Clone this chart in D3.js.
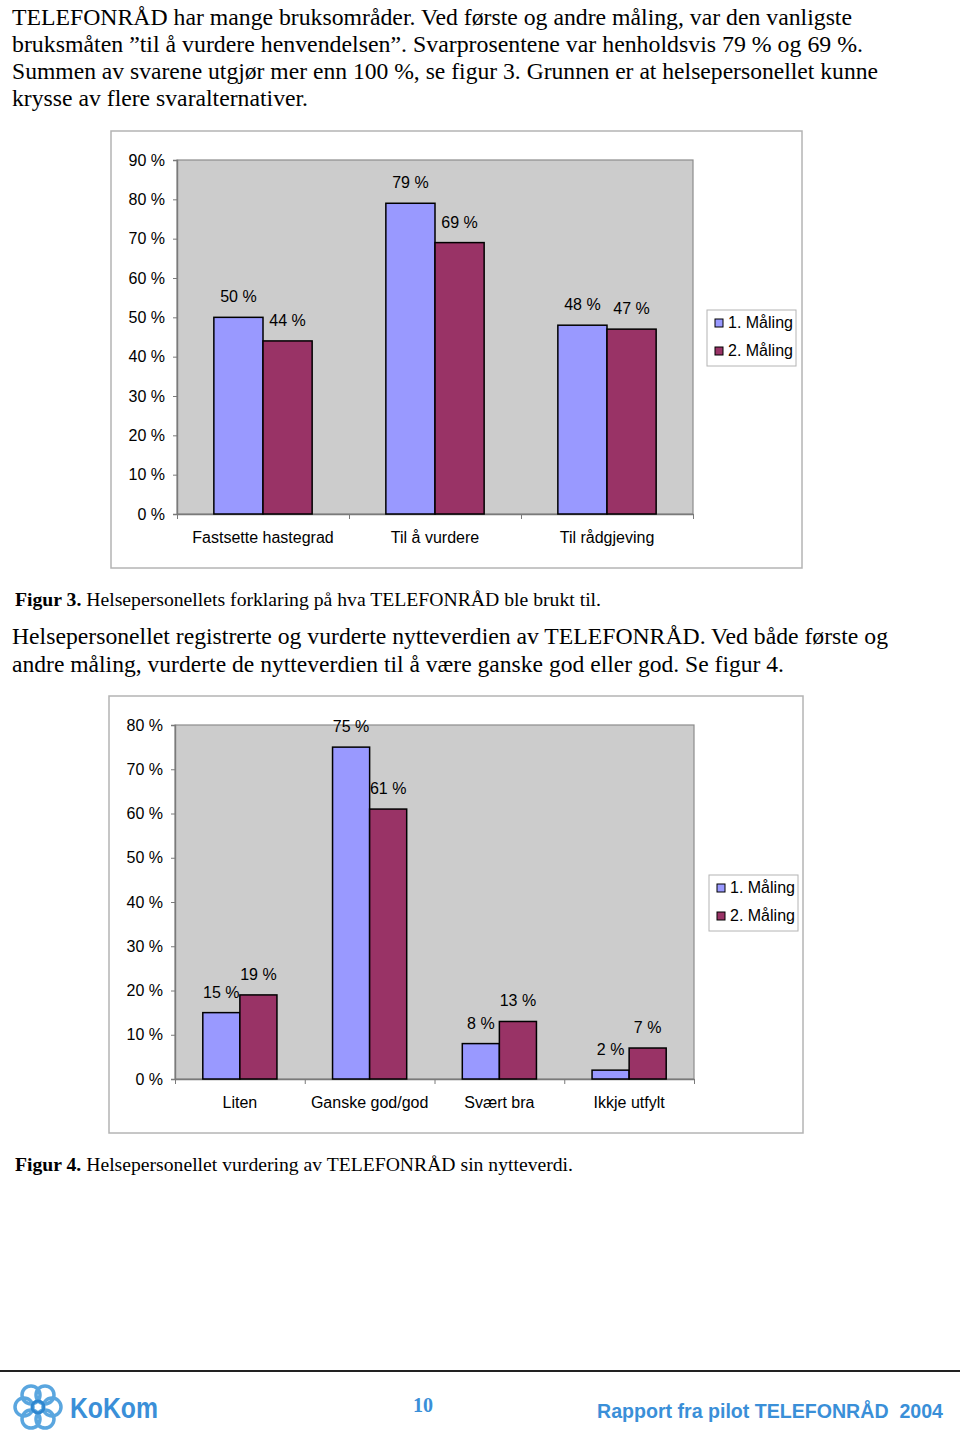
<!DOCTYPE html>
<html><head><meta charset="utf-8">
<script src="https://cdn.jsdelivr.net/npm/d3@7"></script>
<style>body{margin:0;background:#fff}svg{display:block}</style>
</head><body>
<script>
// ---------- DATA ----------
const seriesNames = ["1. Måling", "2. Måling"];
const cats3 = ["Fastsette hastegrad", "Til å vurdere", "Til rådgjeving"];
const fig3Maling1 = [50, 79, 48];
const fig3Maling2 = [44, 69, 47];
const fig3Ticks = [0, 10, 20, 30, 40, 50, 60, 70, 80, 90];

const cats4 = ["Liten", "Ganske god/god", "Svært bra", "Ikkje utfylt"];
const fig4Maling1 = [15, 75, 8, 2];
const fig4Maling2 = [19, 61, 13, 7];
const fig4Ticks = [0, 10, 20, 30, 40, 50, 60, 70, 80];

const para1 = [
  "TELEFONRÅD har mange bruksområder. Ved første og andre måling, var den vanligste",
  "bruksmåten \u201Dtil å vurdere henvendelsen\u201D. Svarprosentene var henholdsvis 79 % og 69 %.",
  "Summen av svarene utgjør mer enn 100 %, se figur 3. Grunnen er at helsepersonellet kunne",
  "krysse av flere svaralternativer."
];
const para2 = [
  "Helsepersonellet registrerte og vurderte nytteverdien av TELEFONRÅD. Ved både første og",
  "andre måling, vurderte de nytteverdien til å være ganske god eller god. Se figur 4."
];

const W = 960, H = 1444;
const svg = d3.select("body").append("svg").attr("width", W).attr("height", H);
svg.append("rect").attr("width", W).attr("height", H).attr("fill", "#fff");

const serif = "'Liberation Serif','Times New Roman',serif";
const sans = "'Liberation Sans',Arial,sans-serif";
const FS = 16;

function paragraph(lines, x, y0, lh, widths) {
  lines.forEach((t, i) => {
    const el = svg.append("text").attr("x", x).attr("y", y0 + i * lh)
      .attr("font-family", serif).attr("font-size", 23).attr("fill", "#000").text(t);
    if (widths[i]) el.attr("textLength", widths[i]).attr("lengthAdjust", "spacingAndGlyphs");
  });
}
paragraph(para1, 12, 25, 27, [840, 851, 866, 296]);
paragraph(para2, 12, 644, 28, [876, 772]);

function caption(num, rest, y, len) {
  const t = svg.append("text").attr("x", 15).attr("y", y).attr("font-family", serif)
    .attr("font-size", 18.5).attr("fill", "#000")
    .attr("textLength", len).attr("lengthAdjust", "spacingAndGlyphs");
  t.append("tspan").attr("font-weight", "bold").text(num);
  t.append("tspan").text(rest);
}
caption("Figur 3.", " Helsepersonellets forklaring på hva TELEFONRÅD ble brukt til.", 606, 586);
caption("Figur 4.", " Helsepersonellet vurdering av TELEFONRÅD sin nytteverdi.", 1171, 558);

const colors = ["#9999ff", "#993366"];

function chart(o) {
  const g = svg.append("g");
  // outer frame
  g.append("rect").attr("x", o.box[0]).attr("y", o.box[1]).attr("width", o.box[2]).attr("height", o.box[3])
    .attr("fill", "#fff").attr("stroke", "#b4b4b4").attr("stroke-width", 1.5);
  const y = d3.scaleLinear().domain([0, o.max]).range([o.bottom, o.top]);
  const x0 = d3.scaleBand().domain(o.cats).range([o.left, o.right])
    .paddingInner(3 / 7).paddingOuter(1.5 / 7);
  const x1 = d3.scaleBand().domain(seriesNames).range([0, x0.bandwidth()]);
  // plot area
  g.append("rect").attr("x", o.left).attr("y", o.top).attr("width", o.right - o.left)
    .attr("height", o.bottom - o.top).attr("fill", "#cccccc").attr("stroke", "#8c8c8c").attr("stroke-width", 1.2);
  // y axis
  const ya = g.append("g").attr("transform", `translate(${o.left},0)`)
    .call(d3.axisLeft(y).tickValues(o.ticks).tickFormat(d => d + " %").tickSize(4).tickPadding(8));
  ya.select(".domain").attr("stroke", "#7a7a7a").attr("stroke-width", 1.4);
  ya.selectAll(".tick line").attr("stroke", "#7a7a7a");
  ya.selectAll("text").attr("font-family", sans).attr("font-size", FS).attr("fill", "#000");
  // x axis (ticks at category boundaries)
  const xb = d3.scaleLinear().domain([0, o.cats.length]).range([o.left, o.right]);
  const xa = g.append("g").attr("transform", `translate(0,${o.bottom})`)
    .call(d3.axisBottom(xb).ticks(o.cats.length).tickFormat("").tickSize(5).tickSizeOuter(0));
  xa.select(".domain").attr("stroke", "#7a7a7a").attr("stroke-width", 1.4);
  xa.selectAll(".tick line").attr("stroke", "#7a7a7a");
  g.selectAll(".cat").data(o.cats).enter().append("text")
    .attr("x", d => x0(d) + x0.bandwidth() / 2).attr("y", o.bottom + 29)
    .attr("text-anchor", "middle").attr("font-family", sans).attr("font-size", FS).text(d => d);
  // bars
  const data = [];
  o.cats.forEach((c, i) => {
    data.push({ c, s: seriesNames[0], v: o.s1[i], k: 0 });
    data.push({ c, s: seriesNames[1], v: o.s2[i], k: 1 });
  });
  g.selectAll(".bar").data(data).enter().append("rect")
    .attr("x", d => x0(d.c) + x1(d.s)).attr("y", d => y(d.v))
    .attr("width", x1.bandwidth()).attr("height", d => y(0) - y(d.v))
    .attr("fill", d => colors[d.k]).attr("stroke", "#000").attr("stroke-width", 1.5);
  g.selectAll(".lbl").data(data).enter().append("text")
    .attr("x", d => x0(d.c) + x1(d.s) + x1.bandwidth() / 2).attr("y", d => y(d.v) - 15)
    .attr("text-anchor", "middle").attr("font-family", sans).attr("font-size", FS)
    .text(d => d.v + " %");
  // legend
  const L = o.legend;
  g.append("rect").attr("x", L[0]).attr("y", L[1]).attr("width", 89).attr("height", 56)
    .attr("fill", "#fff").attr("stroke", "#b4b4b4").attr("stroke-width", 1);
  seriesNames.forEach((s, i) => {
    g.append("rect").attr("x", L[0] + 8).attr("y", L[1] + 9 + i * 28).attr("width", 8).attr("height", 8)
      .attr("fill", colors[i]).attr("stroke", "#000").attr("stroke-width", 1);
    g.append("text").attr("x", L[0] + 21).attr("y", L[1] + 18 + i * 28)
      .attr("font-family", sans).attr("font-size", FS).text(s);
  });
}

chart({ box: [111, 131, 691, 437], left: 177, right: 693, top: 160, bottom: 514, max: 90,
  ticks: fig3Ticks, cats: cats3, s1: fig3Maling1, s2: fig3Maling2, legend: [707, 310] });
chart({ box: [109, 696, 694, 437], left: 175, right: 694, top: 725, bottom: 1079, max: 80,
  ticks: fig4Ticks, cats: cats4, s1: fig4Maling1, s2: fig4Maling2, legend: [709, 875] });

// footer
svg.append("line").attr("x1", 0).attr("x2", 960).attr("y1", 1371).attr("y2", 1371)
  .attr("stroke", "#222").attr("stroke-width", 2);
const logo = svg.append("g").attr("transform", "translate(38,1407)");
const petals = d3.range(6).map(i => i * 60);
logo.selectAll("circle.p").data(petals).enter().append("circle")
  .attr("cx", d => 14 * Math.cos(d * Math.PI / 180)).attr("cy", d => 14 * Math.sin(d * Math.PI / 180))
  .attr("r", 9).attr("fill", "none").attr("stroke", "#5aa6df").attr("stroke-width", 3.5);
logo.append("circle").attr("r", 6).attr("fill", "none").attr("stroke", "#2e86cf").attr("stroke-width", 3);
svg.append("text").attr("x", 70).attr("y", 1418).attr("font-family", sans).attr("font-weight", "bold")
  .attr("font-size", 29).attr("fill", "#3a8fd8").attr("textLength", 88).attr("lengthAdjust", "spacingAndGlyphs").text("KoKom");
svg.append("text").attr("x", 423).attr("y", 1412).attr("text-anchor", "middle").attr("font-family", serif)
  .attr("font-weight", "bold").attr("font-size", 20).attr("fill", "#3a8fd8").text("10");
svg.append("text").attr("x", 597).attr("y", 1418).attr("font-family", sans).attr("font-weight", "bold")
  .attr("font-size", 20).attr("fill", "#3a8fd8").attr("textLength", 346).attr("lengthAdjust", "spacingAndGlyphs")
  .attr("xml:space", "preserve").text("Rapport fra pilot TELEFONRÅD  2004");
</script>
</body></html>
